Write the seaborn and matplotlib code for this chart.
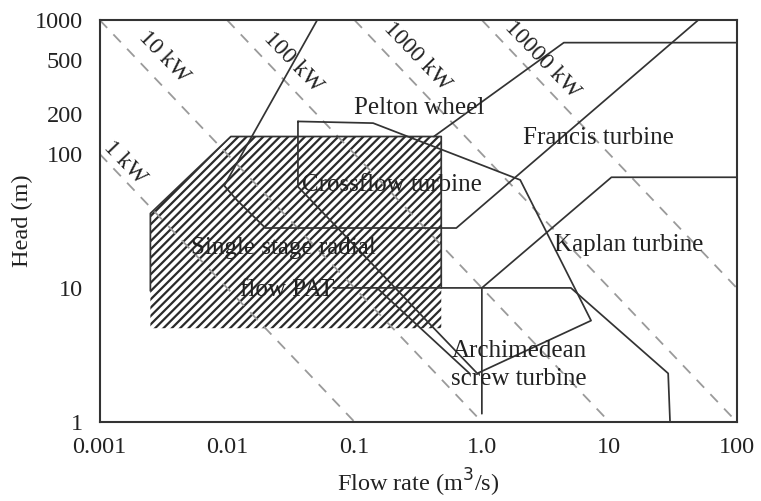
import numpy as np
import pandas as pd
import matplotlib
matplotlib.use("Agg")
import matplotlib.pyplot as plt
import seaborn as sns

# ---------------- data ----------------
# iso-power lines (dashed): endpoints inside the axes
power_labels = ["1 kW", "10 kW", "100 kW", "1000 kW", "10000 kW"]
power_q = [[0.001, 0.1], [0.001, 1.0], [0.01, 10.0], [0.1, 100.0], [1.0, 100.0]]
power_h = [[100, 1], [1000, 1], [1000, 1], [1000, 1], [1000, 10]]
power_label_q = [0.00157, 0.00321, 0.0331, 0.308, 2.96]
power_label_h = [86, 533, 481, 533, 506]

# PAT hatched region
pat_q = [0.0025, 0.0025, 0.0107, 0.48, 0.48]
pat_h = [5, 36, 135, 135, 5]
pat_edge_q = [0.0025, 0.0025, 0.0107, 0.48, 0.48]
pat_edge_h = [9.5, 36, 135, 135, 10]

# Pelton wheel boundary
pelton_q = [0.051, 0.0095, 0.012, 0.02, 0.63, 50]
pelton_h = [1000, 58, 45, 28, 28, 1000]

# Crossflow turbine boundary
cross_q = [0.036, 0.14, 2.0, 7.2, 0.92, 0.036, 0.036]
cross_h = [175, 170, 64, 5.7, 2.3, 57, 175]
cross2_q = [0.15, 0.8]
cross2_h = [10, 2.3]

# Francis turbine boundary
francis_q = [0.42, 4.4, 100]
francis_h = [135, 678, 678]

# Kaplan turbine boundary
kaplan_q = [1.0, 1.0, 10.4, 100]
kaplan_h = [1.15, 10, 67, 67]
kaplan2_q = [0.068, 5.0, 29, 30]
kaplan2_h = [10, 10, 2.3, 1]

# region labels
labels = ["Pelton wheel", "Francis turbine", "Crossflow turbine",
          "Single stage radial", "flow PAT", "Kaplan turbine",
          "Archimedean", "screw turbine"]
label_q = [0.325, 8.24, 0.197, 0.0277, 0.0298, 14.1, 1.96, 1.96]
label_h = [221, 132, 58.6, 19.8, 9.6, 20.8, 3.4, 2.1]

x_ticks = [0.001, 0.01, 0.1, 1, 10, 100]
x_ticklabels = ["0.001", "0.01", "0.1", "1.0", "10", "100"]
y_ticks = [1, 10, 100, 200, 500, 1000]
y_ticklabels = ["1", "10", "100", "200", "500", "1000"]

# ---------------- style ----------------
sns.set_theme(style="white")
plt.rcParams["font.family"] = ["Liberation Serif", "DejaVu Serif"]
plt.rcParams["hatch.linewidth"] = 1.6
plt.rcParams["hatch.color"] = "#2a2a2a"

fig = plt.figure(figsize=(7.61, 5.01), dpi=100)
ax = fig.add_axes([0.131, 0.158, 0.837, 0.802])
ax.set_xscale("log")
ax.set_yscale("log")
ax.set_xlim(0.001, 100)
ax.set_ylim(1, 1000)

line_col = "#333333"
dash_col = "#9a9a9a"
text_col = "#222222"

# hatched PAT region
ax.fill(pat_q, pat_h, facecolor="white", edgecolor="#2a2a2a", hatch="////",
        linewidth=0, zorder=1)

# dashed iso-power lines
for q, h in zip(power_q, power_h):
    sns.lineplot(x=q, y=h, ax=ax, color=dash_col, linewidth=1.3,
                 linestyle=(0, (6, 5)), zorder=2, estimator=None, sort=False)

for lab, q, h in zip(power_labels, power_label_q, power_label_h):
    ax.text(q, h, lab, fontsize=17, rotation=-46, ha="center", va="center",
            color=text_col, rotation_mode="anchor", zorder=5)

# solid region boundaries
for q, h in [(pat_edge_q, pat_edge_h), (pelton_q, pelton_h),
             (cross_q, cross_h), (cross2_q, cross2_h),
             (francis_q, francis_h), (kaplan_q, kaplan_h),
             (kaplan2_q, kaplan2_h)]:
    sns.lineplot(x=q, y=h, ax=ax, color=line_col, linewidth=1.25,
                 estimator=None, sort=False, zorder=3)

for lab, q, h in zip(labels, label_q, label_h):
    ax.text(q, h, lab, fontsize=18, ha="center", va="center",
            color=text_col, zorder=5)

ax.set_xticks(x_ticks)
ax.set_xticklabels(x_ticklabels)
ax.set_yticks(y_ticks)
ax.set_yticklabels(y_ticklabels)
ax.minorticks_off()
ax.tick_params(axis="both", which="both", length=0, labelsize=17.5,
               labelcolor=text_col)
ax.tick_params(axis="x", pad=11)
ax.tick_params(axis="y", pad=12)
ax.set_xlabel("Flow rate (m$^3$/s)", fontsize=17.5, color=text_col, labelpad=6)
ax.set_ylabel("Head (m)", fontsize=17.5, color=text_col, labelpad=1)
for s in ax.spines.values():
    s.set_color("#333333")
    s.set_linewidth(1.5)

fig.savefig("out.png", dpi=100)
